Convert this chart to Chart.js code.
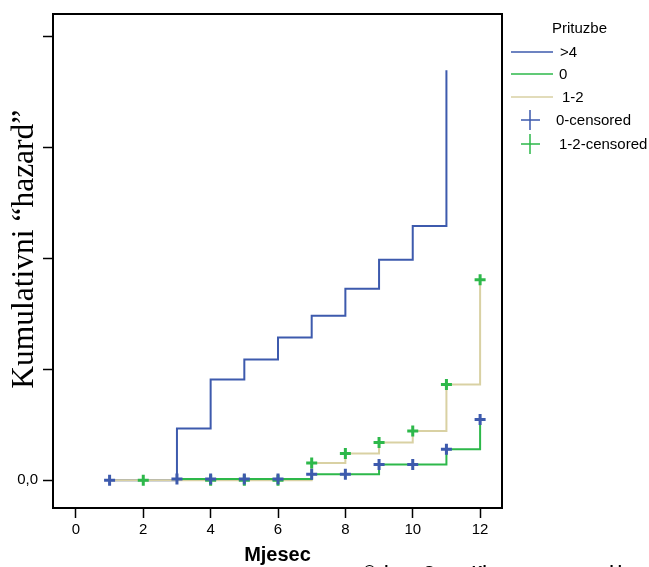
<!DOCTYPE html>
<html lang="hr">
<head>
<meta charset="UTF-8">
<title>Kumulativni hazard</title>
<script src="https://cdn.jsdelivr.net/npm/chart.js"></script>
</head>
<body style="margin:0; background:#fff; overflow:hidden;">
<div style="position:relative; width:649px; height:567px;">
    <canvas id="hazardChart"></canvas>
    <div id="credit" style="position:absolute; left:364px; top:563px; font:bold 15px 'Liberation Sans', Arial, sans-serif; line-height:15px; white-space:nowrap; color:#000;"></div>
</div>
<script>
// values (months, cumulative hazard)
const gt4X = [1, 3, 4, 5, 6, 7, 8, 9, 10, 11];
const gt4Y = [0, 0.467, 0.907, 1.087, 1.285, 1.482, 1.725, 1.986, 2.291, 3.693];
const zeroX = [3, 7, 9, 11, 12];
const zeroY = [0.012, 0.054, 0.141, 0.279, 0.548];
const oneTwoX = [1, 7, 8, 9, 10, 11, 12];
const oneTwoY = [0, 0.155, 0.24, 0.341, 0.443, 0.863, 1.806];
const zeroCensX = [1, 3, 4, 5, 6, 7, 8, 9, 10, 11, 12];
const zeroCensY = [0, 0.012, 0.012, 0.012, 0.012, 0.054, 0.054, 0.141, 0.141, 0.279, 0.548];
const oneTwoCensX = [2, 4, 5, 6, 7, 8, 9, 10, 11, 12];
const oneTwoCensY = [0, 0, 0, 0, 0.155, 0.24, 0.341, 0.443, 0.863, 1.806];

const xTicks = [0, 2, 4, 6, 8, 10, 12];
const yTicks = [0, 1, 2, 3, 4];
const yTickLabels = ['0,0', '', '', '', ''];

const legendTitle = 'Prituzbe';
const seriesNames = ['>4', '0', '1-2', '0-censored', '1-2-censored'];
const creditText = '\u00A9 dnos. Goran Klepac, www.goranklepac.com';

const BLUE = '#3d5aad';
const GREEN = '#2db84a';
const TAN = '#d9d1a3';
const SANS = '"Liberation Sans", Arial, sans-serif';

const pts = (xs, ys) => xs.map((x, i) => ({ x: x, y: ys[i] }));

document.getElementById('credit').textContent = creditText;

// outer frame of the plot area
const framePlugin = {
    id: 'frame',
    afterDatasetsDraw(chart) {
        const a = chart.chartArea;
        const ctx = chart.ctx;
        ctx.save();
        ctx.strokeStyle = '#000';
        ctx.lineWidth = 2;
        ctx.strokeRect(a.left, a.top, a.right - a.left, a.bottom - a.top);
        ctx.restore();
    }
};

// legend on the right, like the SPSS output
const legendPlugin = {
    id: 'sideLegend',
    afterDraw(chart) {
        const ctx = chart.ctx;
        const rows = [52, 74, 97, 120, 144];
        const textX = [560, 559, 562, 556, 559];
        ctx.save();
        ctx.font = '15px ' + SANS;
        ctx.fillStyle = '#000';
        ctx.textBaseline = 'middle';
        ctx.fillText(legendTitle, 552, 29);
        chart.data.datasets.forEach((ds, i) => {
            const y = rows[i];
            ctx.strokeStyle = ds.borderColor;
            ctx.lineWidth = 1.5;
            ctx.beginPath();
            if (ds.showLine === false) {
                ctx.moveTo(521, y); ctx.lineTo(540, y);
                ctx.moveTo(530, y - 10); ctx.lineTo(530, y + 10);
            } else {
                ctx.moveTo(511, y); ctx.lineTo(553, y);
            }
            ctx.stroke();
            ctx.fillStyle = '#000';
            ctx.fillText(ds.label, textX[i], y + 1);
        });
        ctx.restore();
    }
};

const stepLine = (label, data, color, order) => ({
    label: label,
    data: data,
    borderColor: color,
    backgroundColor: color,
    borderWidth: 2,
    stepped: true,
    pointRadius: 0,
    fill: false,
    order: order
});

const censMarks = (label, data, color, order) => ({
    label: label,
    data: data,
    showLine: false,
    borderColor: color,
    backgroundColor: color,
    pointStyle: 'cross',
    pointRadius: 5.5,
    borderWidth: 3,
    order: order
});

new Chart(document.getElementById('hazardChart'), {
    type: 'line',
    data: {
        datasets: [
            stepLine(seriesNames[0], pts(gt4X, gt4Y), BLUE, 6),
            stepLine(seriesNames[1], pts(zeroX, zeroY), GREEN, 4),
            stepLine(seriesNames[2], pts(oneTwoX, oneTwoY), TAN, 5),
            censMarks(seriesNames[3], pts(zeroCensX, zeroCensY), BLUE, 1),
            censMarks(seriesNames[4], pts(oneTwoCensX, oneTwoCensY), GREEN, 2)
        ]
    },
    options: {
        responsive: true,
        maintainAspectRatio: false,
        animation: false,
        layout: { padding: { top: 12, right: 147, left: 0, bottom: 0 } },
        plugins: {
            legend: { display: false },
            tooltip: { enabled: false }
        },
        scales: {
            x: {
                type: 'linear',
                min: -0.68,
                max: 12.65,
                afterBuildTicks: s => { s.ticks = xTicks.map(v => ({ value: v })); },
                grid: { display: true, drawOnChartArea: false, drawTicks: true, tickLength: 10, tickWidth: 1.5, tickColor: '#000' },
                border: { display: false },
                ticks: { color: '#000', padding: 3, font: { family: SANS, size: 15 } },
                title: {
                    display: true,
                    text: 'Mjesec',
                    color: '#000',
                    font: { family: SANS, size: 20, weight: 'bold' },
                    padding: { top: 1, bottom: 0 }
                }
            },
            y: {
                type: 'linear',
                min: -0.25,
                max: 4.2,
                afterBuildTicks: s => { s.ticks = yTicks.map(v => ({ value: v })); },
                afterFit: s => { s.width = 53; },
                grid: { display: true, drawOnChartArea: false, drawTicks: true, tickLength: 10, tickWidth: 1.5, tickColor: '#000' },
                border: { display: false },
                ticks: {
                    color: '#000',
                    padding: 5,
                    font: { family: SANS, size: 15 },
                    callback: (v, i) => yTickLabels[i]
                },
                title: {
                    display: true,
                    // leading spaces nudge the centred title a little upward
                    text: '   Kumulativni \u201Chazard\u201D',
                    color: '#000',
                    font: { family: '"Liberation Serif", "Times New Roman", serif', size: 31.5, lineHeight: 0.05 },
                    padding: { top: 24, bottom: 0 }
                }
            }
        }
    },
    plugins: [framePlugin, legendPlugin]
});
</script>
</body>
</html>
